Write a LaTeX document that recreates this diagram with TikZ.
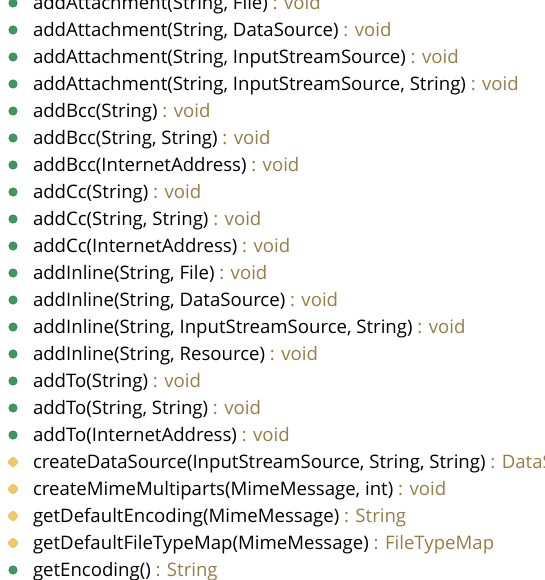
\documentclass[tikz,border=0pt]{standalone}
\usepackage{fontspec}
\setmainfont{Open Sans}
\usepackage{xcolor}
\usepackage{tikz}
\usetikzlibrary{shapes.geometric}
\definecolor{qualcol}{RGB}{149,125,71}
\definecolor{pubgreen}{RGB}{62,152,94}
\definecolor{protyellow}{RGB}{244,200,96}
\tikzset{
    member/.style = {inner sep=0pt, outer sep=0pt},
    public_node/.style = {member, circle, draw=pubgreen!75!black, fill=pubgreen, thin, minimum size=8.5pt},
    protected_node/.style = {member, diamond, draw=protyellow!70!brown, fill=protyellow, rounded corners=1.5pt, thin, minimum size=11pt},
    sig/.style = {member, anchor=base west, font=\fontsize{18.6}{20}\selectfont}
}

\begin{document}
\begin{tikzpicture}[x=1pt, y=1pt]
    \clip (0,0) rectangle (545,-580);
    \foreach \kind/\sig/\ret [count=\i] in {
        public_node/{addAttachment(String, File)}/void,
        public_node/{addAttachment(String, DataSource)}/void,
        public_node/{addAttachment(String, InputStreamSource)}/void,
        public_node/{addAttachment(String, InputStreamSource, String)}/void,
        public_node/{addBcc(String)}/void,
        public_node/{addBcc(String, String)}/void,
        public_node/{addBcc(InternetAddress)}/void,
        public_node/{addCc(String)}/void,
        public_node/{addCc(String, String)}/void,
        public_node/{addCc(InternetAddress)}/void,
        public_node/{addInline(String, File)}/void,
        public_node/{addInline(String, DataSource)}/void,
        public_node/{addInline(String, InputStreamSource, String)}/void,
        public_node/{addInline(String, Resource)}/void,
        public_node/{addTo(String)}/void,
        public_node/{addTo(String, String)}/void,
        public_node/{addTo(InternetAddress)}/void,
        protected_node/{createDataSource(InputStreamSource, String, String)}/DataSource,
        protected_node/{createMimeMultiparts(MimeMessage, int)}/void,
        protected_node/{getDefaultEncoding(MimeMessage)}/String,
        protected_node/{getDefaultFileTypeMap(MimeMessage)}/FileTypeMap,
        public_node/{getEncoding()}/String
    }{
        \pgfmathsetmacro\y{3+27*(\i-1)}
        \node [\kind] (dot\i) at (13,-\y) {};
        \node [sig] (sig\i) at ([xshift=20pt, yshift=-6.5pt]dot\i.center)
            {\sig\ \textcolor{qualcol}{: \ret}};
    }
\end{tikzpicture}
\end{document}
